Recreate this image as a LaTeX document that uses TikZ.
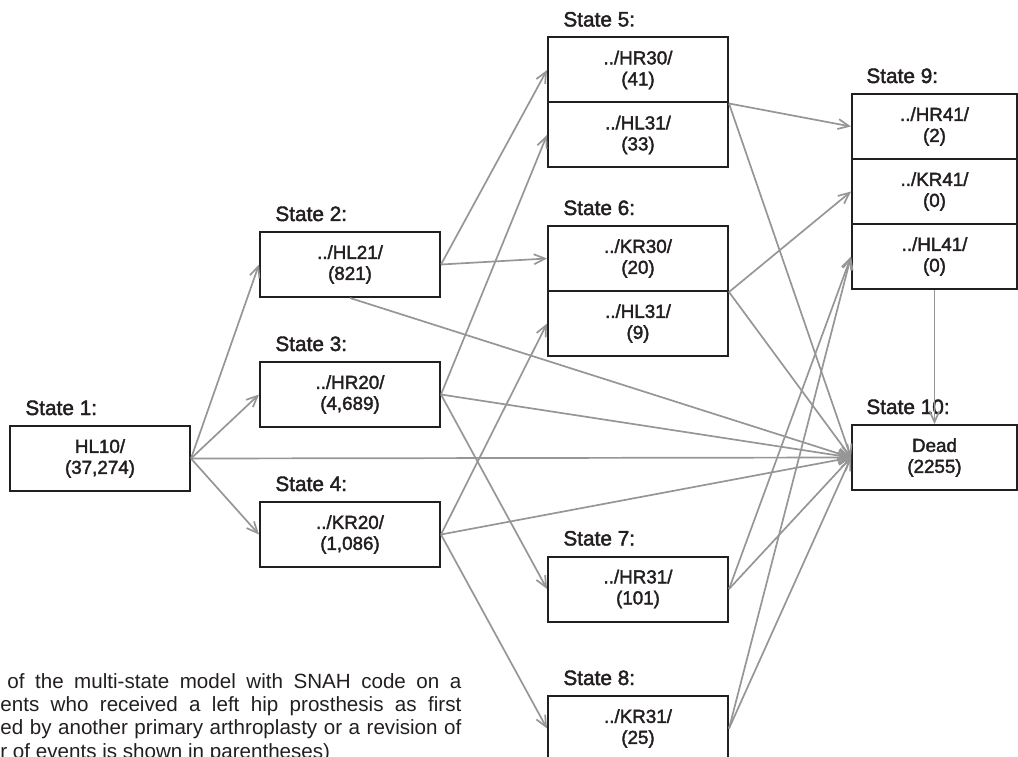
\documentclass[tikz,border=0pt]{standalone}
\usepackage{fontspec}
\setmainfont{Liberation Sans}
\newfontfamily\statefont[FakeBold=2]{Liberation Sans}
\usetikzlibrary{arrows.meta}
\definecolor{ink}{RGB}{35,31,32}
\definecolor{edgegray}{RGB}{150,150,150}

\begin{document}
\begin{tikzpicture}[x=1pt,y=-1pt,style=thick]
\tikzstyle{statebox}=[draw=ink, line width=2pt, fill=white, rectangle, minimum width=180pt, minimum height=65pt, inner sep=0pt, align=center, text=ink, font=\statefont\fontsize{18.8}{21}\selectfont]
\tikzstyle{narrowbox}=[statebox, minimum width=165pt]
\tikzstyle{statelabel}=[anchor=base west, inner sep=0pt, text=ink, font=\statefont\fontsize{20.8}{24}\selectfont]
\tikzstyle{captionline}=[anchor=base west, inner sep=0pt, text=ink, font=\fontsize{20.6}{23.3}\selectfont]
\tikzstyle{transition}=[draw=edgegray, line width=1.7pt, -{Straight Barb[length=11pt,width=10pt]}]

\useasboundingbox (0,0) rectangle (1018,757);
\clip (0,0) rectangle (1018,757);

\node[statebox] (S1) at (100,458.5) {HL10/\\(37,274)};
\node[statebox] (S2) at (350,264.5) {../HL21/\\(821)};
\node[statebox] (S3) at (350,394.5) {../HR20/\\(4,689)};
\node[statebox] (S4) at (350,534.5) {../KR20/\\(1,086)};
\node[statebox] (S5a) at (638,70) {../HR30/\\(41)};
\node[statebox] (S5b) at (638,135) {../HL31/\\(33)};
\node[statebox] (S6a) at (638,258.5) {../KR30/\\(20)};
\node[statebox] (S6b) at (638,323.5) {../HL31/\\(9)};
\node[statebox] (S7) at (638,589) {../HR31/\\(101)};
\node[statebox] (S8) at (638,728.5) {../KR31/\\(25)};
\node[narrowbox] (S9a) at (934.5,126.5) {../HR41/\\(2)};
\node[narrowbox] (S9b) at (934.5,191.5) {../KR41/\\(0)};
\node[narrowbox] (S9c) at (934.5,256.5) {../HL41/\\(0)};
\node[narrowbox] (S10) at (934.5,457.5) {Dead\\(2255)};

\node[statelabel] (L1) at ([shift={(16,-10)}]S1.north west) {State 1:};
\node[statelabel] (L2) at ([shift={(16,-10)}]S2.north west) {State 2:};
\node[statelabel] (L3) at ([shift={(16,-10)}]S3.north west) {State 3:};
\node[statelabel] (L4) at ([shift={(16,-10)}]S4.north west) {State 4:};
\node[statelabel] (L5) at ([shift={(16,-10)}]S5a.north west) {State 5:};
\node[statelabel] (L6) at ([shift={(16,-10)}]S6a.north west) {State 6:};
\node[statelabel] (L7) at ([shift={(16,-10)}]S7.north west) {State 7:};
\node[statelabel] (L8) at ([shift={(16,-10)}]S8.north west) {State 8:};
\node[statelabel] (L9) at ([shift={(15,-10)}]S9a.north west) {State 9:};
\node[statelabel] (L10) at ([shift={(15,-10)}]S10.north west) {State 10:};

\node[captionline] (c1) at (7,688) {\makebox[454pt][s]{of the multi-state model with SNAH code on a}};
\node[captionline] (c2) at (0,711) {\makebox[461pt][s]{ents who received a left hip prosthesis as first}};
\node[captionline] (c3) at (0,734.5) {\makebox[461pt][s]{ed by another primary arthroplasty or a revision of}};
\node[captionline] (c4) at (0,758) {r of events is shown in parentheses)};

\draw[transition] (S1.east) -- (S2.west);
\draw[transition] (S1.east) -- (S3.west);
\draw[transition] (S1.east) -- (S4.west);
\draw[transition] (S1.east) -- (S10.west);
\draw[transition] (S2.east) -- (S5a.west);
\draw[transition] (S2.east) -- (S6a.west);
\draw[transition] (S2.south) -- (S10.west);
\draw[transition] (S3.east) -- (S5b.west);
\draw[transition] (S3.east) -- (S7.west);
\draw[transition] (S3.east) -- (S10.west);
\draw[transition] (S4.east) -- (S6b.west);
\draw[transition] (S4.east) -- (S8.west);
\draw[transition] (S4.east) -- (S10.west);
\draw[transition] (S5a.south east) -- (S9a.west);
\draw[transition] (S5a.south east) -- (S10.west);
\draw[transition] (S6a.south east) -- (S9b.west);
\draw[transition] (S6a.south east) -- (S10.west);
\draw[transition] (S7.east) -- (S9c.west);
\draw[transition] (S7.east) -- (S10.west);
\draw[transition] (S8.east) -- (S9c.west);
\draw[transition] (S8.east) -- (S10.west);
\draw[transition] (S9c.south) -- (S10.north);
\end{tikzpicture}
\end{document}
